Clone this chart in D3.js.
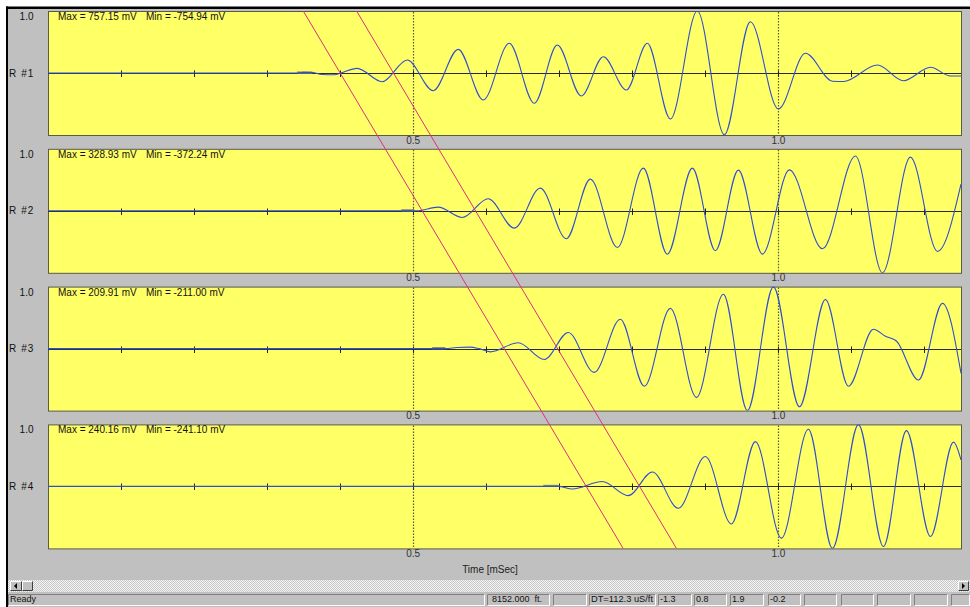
<!DOCTYPE html>
<html>
<head>
<meta charset="utf-8">
<script src="https://cdn.jsdelivr.net/npm/d3@7"></script>
<style>
  body { margin: 0; background: #ffffff; }
  svg { display: block; font-family: "Liberation Sans", Arial, sans-serif; }
</style>
</head>
<body>
<svg id="chart" width="970" height="607"></svg>
<script>
// ---- Data -------------------------------------------------------------
const receivers = ["R #1", "R #2", "R #3", "R #4"];
const gains = ["1.0", "1.0", "1.0", "1.0"];
const maxValues = [757.15, 328.93, 209.91, 240.16];   // mV
const minValues = [-754.94, -372.24, -211.00, -241.10]; // mV

// Waveform samples, [time (ms), amplitude (mV)]
const wave1 = [
  [0, 0], [0.338, 0], [0.350, 8], [0.362, 6], [0.375, -18], [0.392, -22], [0.401, 0],
  [0.4233, 57], [0.4575, -106], [0.4918, 159], [0.5274, -216], [0.5616, 289],
  [0.5959, -330], [0.6315, 363], [0.6658, -370], [0.6973, 342], [0.7301, -281],
  [0.7603, 199], [0.7918, -208], [0.8205, 363], [0.8521, -562], [0.8890, 757.15],
  [0.9260, -754.94], [0.9616, 626], [1.0000, -440], [1.0370, 241], [1.0740, -100],
  [1.0890, -104], [1.1356, 98], [1.1712, -94], [1.2082, 70], [1.2356, -37], [1.25, -37]
];
const wave2 = [
  [0, 0], [0.505, 0], [0.5342, 22], [0.5671, -40], [0.6027, 72], [0.6384, -104],
  [0.6740, 136], [0.7096, -168], [0.7425, 190], [0.7795, -220], [0.8151, 256],
  [0.8479, -261], [0.8822, 256], [0.9137, -240], [0.9452, 244], [0.9781, -260],
  [1.0151, 246], [1.0603, -228], [1.1055, 328.93], [1.1425, -372.24], [1.1808, 322],
  [1.2178, -244], [1.25, 160]
];
const wave3 = [
  [0, 0], [0.545, 0], [0.560, 4], [0.578, 5], [0.590, 0], [0.6055, -11], [0.6438, 20],
  [0.6795, -37], [0.7123, 55], [0.7479, -81], [0.7836, 100], [0.8164, -128],
  [0.8521, 137], [0.8877, -166], [0.9247, 185], [0.9575, -211.00], [0.9932, 209.91],
  [1.0288, -198], [1.0644, 167], [1.0959, -128], [1.1301, 66], [1.1466, 42],
  [1.1616, 26], [1.1918, -107], [1.2247, 154], [1.25, -84]
];
const wave4 = [
  [0, 0], [0.699, 0], [0.7178, -10], [0.7589, 19], [0.7945, -36], [0.8274, 56],
  [0.8630, -85], [0.9000, 116], [0.9356, -146], [0.9685, 174], [1.0041, -201],
  [1.0411, 222], [1.0740, -241.10], [1.1096, 240.16], [1.1438, -234], [1.1753, 217],
  [1.2082, -195], [1.2397, 172], [1.25, 103]
];
const waves = [wave1, wave2, wave3, wave4];

// Window-start marks on each trace [start, end] (ms)
const onsetMarks = [[0.341, 0.362], [0.4836, 0.5014], [0.526, 0.544], [0.678, 0.699]];

const timeTicks = [0.1, 0.2, 0.3, 0.4, 0.5, 0.6, 0.7, 0.8, 0.9, 1.0, 1.1, 1.2];
const gridTimes = [0.5, 1.0];
const gridLabels = ["0.5", "1.0"];
const axisTitle = "Time [mSec]";

// Slowness picks: arrival time at R #1 (ms) and move-out per receiver (ms)
const pickTimes = [0.400, 0.473];
const moveout = 0.1123;

const statusReady = "Ready";
const statusTexts = ["8152.000  ft.", "", "DT=112.3 uS/ft", "-1.3", "0.8", "1.9", "-0.2", "", "", "", "", ""];

// ---- Layout -----------------------------------------------------------
const W = 970, H = 607;
const plotLeft = 48, plotRight = 961;
const panelTop0 = 11, panelStep = 137.8, panelH = 124;
const half = panelH / 2;

const svg = d3.select("#chart");

const x = d3.scaleLinear().domain([0, 1.25]).range([plotLeft, plotRight]);
const panelTop = i => panelTop0 + i * panelStep;
const baseY = i => panelTop(i) + half;

// window background and frame
svg.append("rect").attr("width", W).attr("height", H).attr("fill", "#ffffff");
svg.append("rect").attr("x", 8).attr("y", 9).attr("width", W - 8).attr("height", H - 9).attr("fill", "#c0c0c0");
svg.append("rect").attr("x", 6).attr("y", 6.5).attr("width", W - 6).attr("height", 2.5).attr("fill", "#000");
svg.append("rect").attr("x", 6).attr("y", 6.5).attr("width", 2).attr("height", H - 6.5).attr("fill", "#000");

const defs = svg.append("defs");
const dither = defs.append("pattern").attr("id", "dither")
  .attr("width", 2).attr("height", 2).attr("patternUnits", "userSpaceOnUse");
dither.append("rect").attr("width", 2).attr("height", 2).attr("fill", "#f4f4f4");
dither.append("rect").attr("width", 1).attr("height", 1).attr("fill", "#c8c8c8");
dither.append("rect").attr("x", 1).attr("y", 1).attr("width", 1).attr("height", 1).attr("fill", "#c8c8c8");

receivers.forEach((name, i) => {
  const top = panelTop(i);
  const scaleMax = Math.max(maxValues[i], -minValues[i]);
  const y = d3.scaleLinear().domain([-scaleMax, scaleMax]).range([top + panelH, top]);
  const g = svg.append("g");

  defs.append("clipPath").attr("id", "clip" + i)
    .append("rect").attr("x", plotLeft).attr("y", top)
    .attr("width", plotRight - plotLeft).attr("height", panelH);

  g.append("rect")
    .attr("x", plotLeft + 0.5).attr("y", top + 0.5)
    .attr("width", plotRight - plotLeft).attr("height", panelH)
    .attr("fill", "#ffff66").attr("stroke", "#5a5a48").attr("stroke-width", 1);

  // dotted grid lines
  g.selectAll("line.grid").data(gridTimes).join("line")
    .attr("x1", d => Math.round(x(d)) + 0.5).attr("x2", d => Math.round(x(d)) + 0.5)
    .attr("y1", top + 1).attr("y2", top + panelH)
    .attr("stroke", "#5a5a38").attr("stroke-width", 1.2).attr("stroke-dasharray", "1.5,1.5");

  // zero line
  g.append("line")
    .attr("x1", plotLeft).attr("x2", plotRight)
    .attr("y1", Math.round(y(0)) + 0.5).attr("y2", Math.round(y(0)) + 0.5)
    .attr("stroke", "#2a2a2a").attr("stroke-width", 1);

  // tick marks on the zero line
  g.selectAll("line.tick").data(timeTicks).join("line")
    .attr("x1", d => Math.round(x(d)) + 0.5).attr("x2", d => Math.round(x(d)) + 0.5)
    .attr("y1", Math.round(y(0)) - 2.5).attr("y2", Math.round(y(0)) + 4)
    .attr("stroke", "#222").attr("stroke-width", 1);

  // window-start mark
  g.append("line")
    .attr("x1", x(onsetMarks[i][0])).attr("x2", x(onsetMarks[i][1]))
    .attr("y1", y(0) - 0.5).attr("y2", y(0) - 0.5)
    .attr("stroke", "#8a8a78").attr("stroke-width", 2.2);

  // waveform
  const line = d3.line().x(d => x(d[0])).y(d => y(d[1])).curve(d3.curveMonotoneX);
  g.append("path").datum(waves[i])
    .attr("clip-path", "url(#clip" + i + ")")
    .attr("d", line)
    .attr("fill", "none").attr("stroke", "#2f4fd0").attr("stroke-width", 1.1);

  // texts
  g.append("text").attr("x", 58).attr("y", top + 9)
    .attr("font-size", 10).attr("fill", "#111")
    .text("Max = " + maxValues[i].toFixed(2) + " mV");
  g.append("text").attr("x", 146).attr("y", top + 9)
    .attr("font-size", 10).attr("fill", "#111")
    .text("Min = " + minValues[i].toFixed(2) + " mV");
  g.append("text").attr("x", 33.5).attr("y", top + 9).attr("text-anchor", "end")
    .attr("font-size", 10).attr("fill", "#111").text(gains[i]);
  g.append("text").attr("x", 9).attr("y", baseY(i) + 3.5)
    .attr("font-size", 10).attr("letter-spacing", 1.1).attr("fill", "#111").text(name);

  g.selectAll("text.glabel").data(gridTimes).join("text")
    .attr("x", d => x(d)).attr("y", top + panelH + 8.5)
    .attr("text-anchor", "middle").attr("font-size", 10).attr("fill", "#333")
    .text((d, k) => gridLabels[k]);
});

svg.append("text").attr("x", 490).attr("y", 573).attr("text-anchor", "middle")
  .attr("font-size", 10).attr("fill", "#222").text(axisTitle);

// slowness pick lines across all receivers
const r = d3.scaleLinear().domain([1, 4]).range([baseY(0), baseY(3)]);
const rTop = r.invert(panelTop(0)), rBot = r.invert(panelTop(3) + panelH);
svg.append("g").selectAll("line").data(pickTimes).join("line")
  .attr("x1", t => x(t + (rTop - 1) * moveout)).attr("y1", r(rTop))
  .attr("x2", t => x(t + (rBot - 1) * moveout)).attr("y2", r(rBot))
  .attr("stroke", "#dc2f80").attr("stroke-width", 1);

// ---- scroll bar --------------------------------------------------------
const sb = svg.append("g");
sb.append("rect").attr("x", 8).attr("y", 580).attr("width", W - 8).attr("height", 12).attr("fill", "url(#dither)");
function button(x0, y0, w, h) {
  sb.append("rect").attr("x", x0).attr("y", y0).attr("width", w).attr("height", h).attr("fill", "#c0c0c0");
  sb.append("path").attr("d", `M${x0 + 0.5},${y0 + h - 0.5}V${y0 + 0.5}H${x0 + w - 0.5}`)
    .attr("fill", "none").attr("stroke", "#fff");
  sb.append("path").attr("d", `M${x0 + 0.5},${y0 + h - 0.5}H${x0 + w - 0.5}V${y0 + 0.5}`)
    .attr("fill", "none").attr("stroke", "#404040");
}
button(10, 581, 12, 10);
button(22, 581, 11, 10);
button(958, 581, 11, 10);
sb.append("path").attr("d", "M14,586 L17,583 L17,589 Z").attr("fill", "#000");
sb.append("path").attr("d", "M965,586 L962,583 L962,589 Z").attr("fill", "#000");

// ---- status bar ------------------------------------------------------
const st = svg.append("g").attr("font-size", 9).attr("fill", "#111");
function pane(x0, x1) {
  st.append("path").attr("d", `M${x0 + 0.5},${605.5}V${594.5}H${x1 - 0.5}`)
    .attr("fill", "none").attr("stroke", "#808080");
  st.append("path").attr("d", `M${x0 + 0.5},${605.5}H${x1 - 0.5}V${594.5}`)
    .attr("fill", "none").attr("stroke", "#ffffff");
}
pane(8, 485);
st.append("text").attr("x", 10).attr("y", 602).text(statusReady);
const paneEdges = [[487, 550], [553, 587], [589, 656], [658, 692], [694, 727], [730, 764],
                   [768, 801], [804, 837], [841, 874], [877, 911], [914, 948], [951, 970]];
paneEdges.forEach((p, k) => {
  pane(p[0], p[1]);
  const t = st.append("text").attr("x", p[0] + (k === 0 ? 5 : 2)).attr("y", 602)
    .attr("xml:space", "preserve").text(statusTexts[k]);
  if (k === 2) t.attr("textLength", 62).attr("lengthAdjust", "spacingAndGlyphs");
});
</script>
</body>
</html>
